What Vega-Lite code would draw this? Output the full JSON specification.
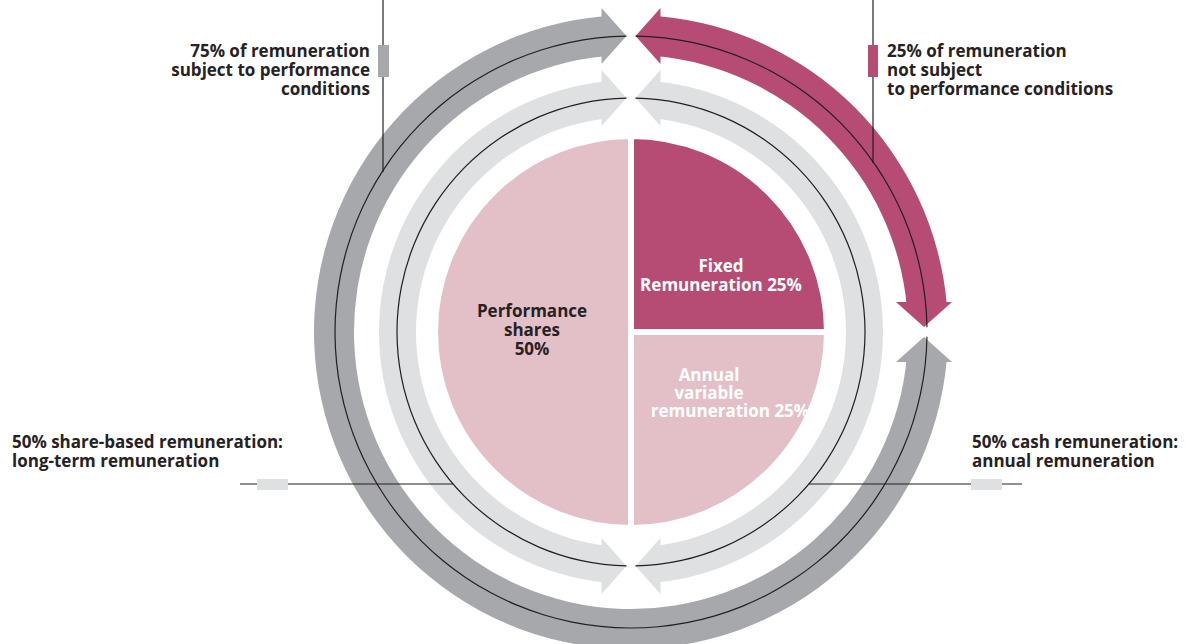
{
  "$schema": "https://vega.github.io/schema/vega-lite/v6.json",
  "width": 1189,
  "height": 644,
  "autosize": "none",
  "padding": 0,
  "background": "white",
  "config": {"view": {"stroke": null}, "text": {"font": "Open Sans", "fontWeight": 700, "fontSize": 17, "lineHeight": 19, "lineBreak": "\n", "baseline": "alphabetic"}},
  "datasets": {
    "slices": [
      {"part": "Fixed remuneration", "t0": 0, "t1": 90, "r0": 0, "r1": 196},
      {"part": "Annual variable remuneration", "t0": 90, "t1": 180, "r0": 0, "r1": 196},
      {"part": "Performance shares", "t0": 180, "t1": 360, "r0": 0, "r1": 196}
    ],
    "bands": [
      {"part": "Subject to performance conditions", "t0": 95, "t1": 355, "r0": 277, "r1": 317},
      {"part": "Not subject to performance conditions", "t0": 5, "t1": 85, "r0": 277, "r1": 317},
      {"part": "Share-based remuneration", "t0": 186, "t1": 354, "r0": 215, "r1": 252},
      {"part": "Cash remuneration", "t0": 6, "t1": 174, "r0": 215, "r1": 252}
    ],
    "heads": [
      {"part": "Subject to performance conditions", "dir": "right", "x": -4.5, "y": 296},
      {"part": "Not subject to performance conditions", "dir": "left", "x": 4.5, "y": 296},
      {"part": "Not subject to performance conditions", "dir": "down", "x": 293, "y": 5},
      {"part": "Subject to performance conditions", "dir": "up", "x": 293, "y": -5},
      {"part": "Share-based remuneration", "dir": "right", "x": -4.5, "y": 234},
      {"part": "Cash remuneration", "dir": "left", "x": 4.5, "y": 234},
      {"part": "Share-based remuneration", "dir": "right", "x": -4.5, "y": -234},
      {"part": "Cash remuneration", "dir": "left", "x": 4.5, "y": -234}
    ],
    "guides": [
      {"t0": 90.9, "t1": 359.1, "r0": 295.4, "r1": 296.6},
      {"t0": 0.9, "t1": 89.1, "r0": 295.4, "r1": 296.6},
      {"t0": 181.1, "t1": 358.9, "r0": 233.4, "r1": 234.6},
      {"t0": 1.1, "t1": 178.9, "r0": 233.4, "r1": 234.6}
    ],
    "leaders": [
      {"x": -248, "y": 332, "x2": -248, "y2": 160},
      {"x": 242, "y": 332, "x2": 242, "y2": 169},
      {"x": -391, "y": -152, "x2": -178, "y2": -152},
      {"x": 178, "y": -152, "x2": 391, "y2": -152}
    ],
    "swatches": [
      {"part": "Subject to performance conditions", "x": -253, "x2": -242, "y": 287, "y2": 255},
      {"part": "Not subject to performance conditions", "x": 237, "x2": 247, "y": 287, "y2": 255},
      {"part": "Share-based remuneration", "x": -374, "x2": -343, "y": -147, "y2": -158},
      {"part": "Cash remuneration", "x": 340, "x2": 371, "y": -147, "y2": -158}
    ],
    "labels": [
      {"kind": "noteRight", "text": "75% of remuneration\nsubject to performance\nconditions", "x": -261, "y": 275},
      {"kind": "noteLeft", "text": "25% of remuneration\nnot subject\nto performance conditions", "x": 256, "y": 275},
      {"kind": "noteLeft", "text": "50% share-based remuneration:\nlong-term remuneration", "x": -619, "y": -116},
      {"kind": "noteLeft", "text": "50% cash remuneration:\nannual remuneration", "x": 341, "y": -116},
      {"kind": "pieLight", "text": "Fixed\nRemuneration 25%", "x": 90, "y": 60},
      {"kind": "pieLight", "text": "Annual", "x": 78, "y": -49},
      {"kind": "pieLight", "text": "variable", "x": 78, "y": -67},
      {"kind": "pieLight", "text": "remuneration 25%", "x": 99, "y": -85},
      {"kind": "pieDark", "text": "Performance\nshares\n50%", "x": -99, "y": 15}
    ]
  },
  "layer": [
    {
      "data": {"name": "slices"},
      "mark": {"type": "arc", "stroke": "white", "strokeWidth": 6},
      "encoding": {
        "x": {"datum": 0, "type": "quantitative", "scale": {"domain": [-631, 558], "nice": false, "zero": false}, "axis": null},
        "y": {"datum": 0, "type": "quantitative", "scale": {"domain": [-312, 332], "nice": false, "zero": false}, "axis": null},
        "theta": {"field": "t0", "type": "quantitative", "stack": null, "scale": {"type": "linear", "domain": [0, 360], "range": [0, 6.283185307179586], "zero": true, "nice": false}},
        "theta2": {"field": "t1"},
        "radius": {"field": "r1", "type": "quantitative", "scale": {"type": "linear", "domain": [0, 1000], "range": [0, 1000], "zero": true, "nice": false}},
        "radius2": {"field": "r0"},
        "color": {"field": "part", "type": "nominal", "legend": null, "scale": {"domain": ["Fixed remuneration", "Annual variable remuneration", "Performance shares", "Subject to performance conditions", "Not subject to performance conditions", "Share-based remuneration", "Cash remuneration"], "range": ["#b64c74", "#e3bfc8", "#e3bfc8", "#a7a8ab", "#b64c74", "#dfe0e2", "#dfe0e2"]}}
      }
    },
    {
      "data": {"name": "bands"},
      "mark": {"type": "arc"},
      "encoding": {
        "x": {"datum": 0, "type": "quantitative"},
        "y": {"datum": 0, "type": "quantitative"},
        "theta": {"field": "t0", "type": "quantitative", "stack": null},
        "theta2": {"field": "t1"},
        "radius": {"field": "r1", "type": "quantitative"},
        "radius2": {"field": "r0"},
        "color": {"field": "part", "type": "nominal", "legend": null}
      }
    },
    {
      "data": {"name": "heads"},
      "mark": {"type": "point", "filled": true, "size": 4, "opacity": 1, "strokeWidth": 0},
      "encoding": {
        "x": {"field": "x", "type": "quantitative"},
        "y": {"field": "y", "type": "quantitative"},
        "shape": {"field": "dir", "type": "nominal", "legend": null, "scale": {"domain": ["right", "left", "down", "up"], "range": ["M0,0L-25,-28L-25,28Z", "M0,0L25,-28L25,28Z", "M0,0L-28,-25L28,-25Z", "M0,0L-28,25L28,25Z"]}},
        "color": {"field": "part", "type": "nominal", "legend": null}
      }
    },
    {
      "data": {"name": "guides"},
      "mark": {"type": "arc", "color": "#231f20"},
      "encoding": {
        "x": {"datum": 0, "type": "quantitative"},
        "y": {"datum": 0, "type": "quantitative"},
        "theta": {"field": "t0", "type": "quantitative", "stack": null},
        "theta2": {"field": "t1"},
        "radius": {"field": "r1", "type": "quantitative"},
        "radius2": {"field": "r0"}
      }
    },
    {
      "data": {"name": "leaders"},
      "mark": {"type": "rule", "color": "#231f20", "strokeWidth": 1.2},
      "encoding": {
        "x": {"field": "x", "type": "quantitative"},
        "y": {"field": "y", "type": "quantitative"},
        "x2": {"field": "x2"},
        "y2": {"field": "y2"}
      }
    },
    {
      "data": {"name": "swatches"},
      "mark": {"type": "rect"},
      "encoding": {
        "x": {"field": "x", "type": "quantitative"},
        "y": {"field": "y", "type": "quantitative"},
        "x2": {"field": "x2"},
        "y2": {"field": "y2"},
        "color": {"field": "part", "type": "nominal", "legend": null}
      }
    },
    {
      "data": {"name": "labels"},
      "transform": [{"filter": "datum.kind == 'noteRight'"}],
      "mark": {"type": "text", "align": "right", "color": "#262223"},
      "encoding": {
        "x": {"field": "x", "type": "quantitative"},
        "y": {"field": "y", "type": "quantitative"},
        "text": {"field": "text"}
      }
    },
    {
      "data": {"name": "labels"},
      "transform": [{"filter": "datum.kind == 'noteLeft'"}],
      "mark": {"type": "text", "align": "left", "color": "#262223"},
      "encoding": {
        "x": {"field": "x", "type": "quantitative"},
        "y": {"field": "y", "type": "quantitative"},
        "text": {"field": "text"}
      }
    },
    {
      "data": {"name": "labels"},
      "transform": [{"filter": "datum.kind == 'pieLight'"}],
      "mark": {"type": "text", "align": "center", "color": "#ffffff"},
      "encoding": {
        "x": {"field": "x", "type": "quantitative"},
        "y": {"field": "y", "type": "quantitative"},
        "text": {"field": "text"}
      }
    },
    {
      "data": {"name": "labels"},
      "transform": [{"filter": "datum.kind == 'pieDark'"}],
      "mark": {"type": "text", "align": "center", "color": "#262223"},
      "encoding": {
        "x": {"field": "x", "type": "quantitative"},
        "y": {"field": "y", "type": "quantitative"},
        "text": {"field": "text"}
      }
    }
  ]
}
